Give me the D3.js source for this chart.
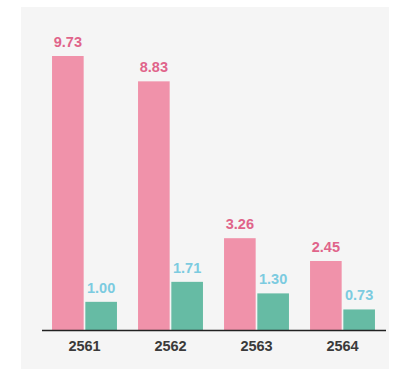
<!DOCTYPE html>
<html><head><meta charset="utf-8">
<script src="https://cdn.jsdelivr.net/npm/d3@7"></script>
<style>
html,body{margin:0;padding:0;background:#fff;}
svg{display:block;font-family:"Liberation Sans",Arial,Helvetica,sans-serif;}
</style></head>
<body>
<svg id="chart" width="394" height="369"></svg>
<script>
const categories = ["2561", "2562", "2563", "2564"];
const seriesNames = ["a", "b"];
const seriesA = [9.73, 8.83, 3.26, 2.45];
const seriesB = [1.00, 1.71, 1.30, 0.73];

const barColors = ["#f092aa", "#66bba4"];
const labelColors = ["#e0648a", "#7ccbe0"];

const svg = d3.select("#chart");
svg.append("rect").attr("x", 21).attr("y", 7).attr("width", 368).attr("height", 362).attr("fill", "#f5f5f5");

const baseY = 330;
const x0 = d3.scaleBand().domain(categories).range([41.5, 385.5]).paddingInner(0.245).paddingOuter(0.1225);
const x1 = d3.scaleBand().domain(seriesNames).range([0, x0.bandwidth()]).paddingInner(0.05);
const y = d3.scaleLinear().domain([0, 9.73]).range([baseY, 56]);

const data = categories.map((c, i) => ({cat: c, vals: [seriesA[i], seriesB[i]]}));

const g = svg.append("g");
const groups = g.selectAll("g.grp").data(data).join("g")
  .attr("transform", d => `translate(${x0(d.cat)},0)`);

groups.selectAll("rect").data(d => d.vals.map((v, j) => ({v, j}))).join("rect")
  .attr("x", d => x1(seriesNames[d.j]))
  .attr("width", x1.bandwidth())
  .attr("y", d => y(d.v))
  .attr("height", d => baseY - y(d.v))
  .attr("fill", d => barColors[d.j]);

groups.selectAll("text").data(d => d.vals.map((v, j) => ({v, j}))).join("text")
  .attr("x", d => x1(seriesNames[d.j]) + x1.bandwidth() / 2)
  .attr("y", d => y(d.v) - 9)
  .attr("text-anchor", "middle")
  .attr("font-size", 14.5)
  .attr("font-weight", "bold")
  .attr("fill", d => labelColors[d.j])
  .text(d => d.v.toFixed(2));

const xAxis = d3.axisBottom(x0).tickSize(0).tickPadding(11);
const ax = svg.append("g").attr("transform", `translate(0,${baseY})`).call(xAxis);
ax.select(".domain").attr("stroke", "#222").attr("stroke-width", 1.6);
ax.selectAll("text").attr("font-size", 14.5).attr("font-weight", "bold").attr("fill", "#3a3a3a")
  .attr("font-family", "'Liberation Sans',Arial,sans-serif");
</script>
</body></html>
